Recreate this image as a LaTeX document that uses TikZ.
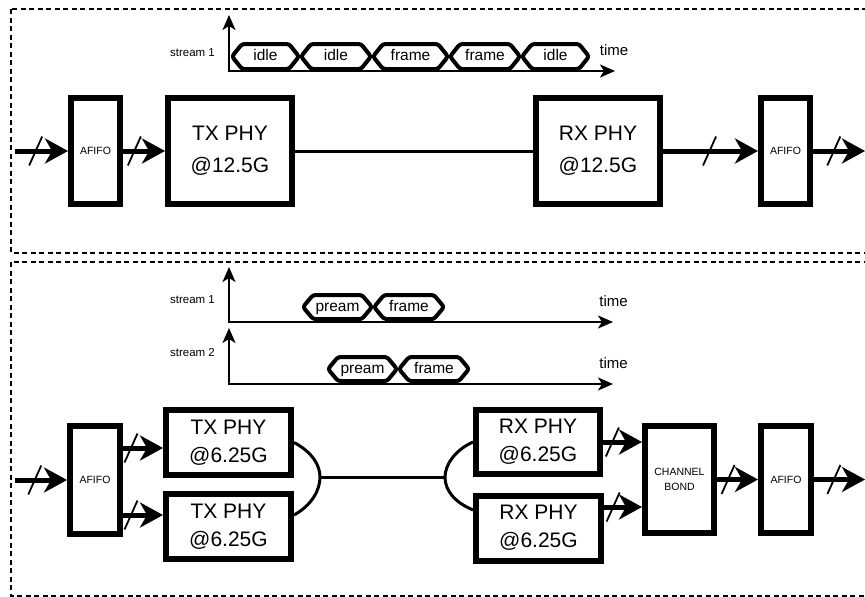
\documentclass[tikz,border=0pt]{standalone}
\usepackage{fontspec}
\setmainfont{Liberation Sans}
\usetikzlibrary{arrows.meta,calc,decorations.markings}
\newcommand\hexnode[6]{%
  \draw[hexb] (#2,{(#4+#5)/2}) -- (#2+10,#4) -- (#3-10,#4) -- (#3,{(#4+#5)/2}) -- (#3-10,#5) -- (#2+10,#5) -- cycle;
  \node[hext] (#1) at ({(#2+#3)/2},{(#4+#5)/2}) {#6};}
\begin{document}
\begin{tikzpicture}[x=1pt,y=-1pt,
  region/.style={draw,line width=2pt,dash pattern=on 5pt off 3.5pt},
  blk/.style={draw,line width=6pt,inner sep=0pt,align=center,font=\fontsize{21}{32}\selectfont},
  blks/.style={blk,font=\fontsize{21}{28}\selectfont},
  fifo/.style={draw,line width=6pt,inner sep=0pt,align=center,font=\fontsize{10.5}{15}\selectfont},
  bus/.style={line width=5pt,-{Stealth[length=23pt,width=25pt,inset=7pt]}},
  slashat/.style={postaction={decorate,decoration={markings,
     mark=at position #1 with {\draw[-,line width=1.8pt] (-6.5,14.5) -- (6.5,-14.5);}}}},
  link/.style={line width=3pt},
  axis/.style={line width=2pt,{Stealth[length=15pt,width=13pt,inset=4pt]}-{Stealth[length=15pt,width=13pt,inset=4pt]}},
  hexb/.style={draw,line width=4pt,rounded corners=2.5pt,line join=round},
  hext/.style={inner sep=0pt,text height=11pt,text depth=3pt,font=\fontsize{15.5}{18}\selectfont},
  lbl/.style={inner sep=0pt,font=\fontsize{11.5}{14}\selectfont},
  tlbl/.style={inner sep=0pt,font=\fontsize{15}{18}\selectfont}]
\useasboundingbox (0,0) rectangle (865,597);
\clip (0,0) rectangle (865,597);
\fill[white] (0,0) rectangle (865,597);

% regions
\draw[region] (11,9) rectangle (875,253);
\draw[region] (11,262) rectangle (875,596);

% ---------------- top: 12.5G -----------------
\coordinate (o1) at (229,71);
\coordinate (y1) at (229,15);
\coordinate (x1) at (615,71);
\draw[axis] (y1) -- (o1) -- (x1);
\node[lbl] (s1a) at (192.5,53) {stream 1};
\node[tlbl] (t1a) at (614,50) {time};
\hexnode{h1}{232}{299}{44}{69}{idle}
\hexnode{h2}{301}{371}{44}{69}{idle}
\hexnode{h3}{373}{448}{44}{69}{frame}
\hexnode{h4}{450}{520}{44}{69}{frame}
\hexnode{h5}{522}{589}{44}{69}{idle}

\coordinate (inA) at (15,151);
\node[fifo,minimum width=49pt,minimum height=106pt] (afA) at (95.5,151) {AFIFO};
\node[blk,minimum width=124pt,minimum height=106pt] (txA) at (230,151) {TX PHY\\@12.5G};
\node[blk,minimum width=124pt,minimum height=106pt] (rxA) at (598,151) {RX PHY\\@12.5G};
\node[fifo,minimum width=49pt,minimum height=106pt] (afB) at (785.5,151) {AFIFO};
\coordinate (outA) at (865,151);

\draw[bus,slashat=0.39] (inA) -- (afA.west);
\draw[bus,slashat=0.27] (afA.east) -- (txA.west);
\draw[link] (txA.east) -- (rxA.west);
\draw[bus,slashat=0.49] (rxA.east) -- (afB.west);
\draw[bus,slashat=0.40] (afB.east) -- (outA);

% ---------------- bottom: 2 x 6.25G -----------------
\coordinate (o2) at (229,322);
\coordinate (y2) at (229,267);
\coordinate (x2) at (613,322);
\draw[axis] (y2) -- (o2) -- (x2);
\coordinate (o3) at (229,384);
\coordinate (y3) at (229,328);
\coordinate (x3) at (613,384);
\draw[axis] (y3) -- (o3) -- (x3);
\node[lbl] (s1b) at (192.5,300) {stream 1};
\node[lbl] (s2b) at (192.5,353) {stream 2};
\node[tlbl] (t1b) at (613.5,301) {time};
\node[tlbl] (t2b) at (613.5,363) {time};
\hexnode{p1}{303}{372}{295}{319}{pream}
\hexnode{f1}{374}{444}{295}{319}{frame}
\hexnode{p2}{328}{397}{357}{381}{pream}
\hexnode{f2}{399}{469}{357}{381}{frame}

\coordinate (inB) at (15,480);
\node[fifo,minimum width=50pt,minimum height=108pt] (afC) at (95,480) {AFIFO};
\node[blks,minimum width=125pt,minimum height=65pt] (tx1) at (228.5,442.5) {TX PHY\\@6.25G};
\node[blks,minimum width=125pt,minimum height=65pt] (tx2) at (228.5,526.5) {TX PHY\\@6.25G};
\node[blks,minimum width=124pt,minimum height=64pt] (rx1) at (538,442) {RX PHY\\@6.25G};
\node[blks,minimum width=125pt,minimum height=65pt] (rx2) at (538.5,528) {RX PHY\\@6.25G};
\node[fifo,minimum width=69pt,minimum height=107pt] (cb) at (679.5,479.5) {CHANNEL\\BOND};
\node[fifo,minimum width=50pt,minimum height=107pt] (afD) at (786,479.5) {AFIFO};
\coordinate (outB) at (865,479.5);
\coordinate (txj) at (320,477);
\coordinate (rxj) at (445,477);

\draw[bus,slashat=0.38] (inB) -- (afC.west);
\draw[bus,slashat=0.2] (afC.east |- 0,448) -- (tx1.west |- 0,448);
\draw[bus,slashat=0.2] (afC.east |- 0,515) -- (tx2.west |- 0,515);
\draw[link] (tx1.east) .. controls (312,452) and (320,465) .. (txj)
   .. controls (320,490) and (312,505) .. (tx2.east |- 0,515);
\draw[link] (txj) -- (rxj);
\draw[link] (rx1.west) .. controls (455,450) and (445,465) .. (rxj)
   .. controls (445,490) and (454,502) .. (rx2.west |- 0,510);
\draw[bus,slashat=0.24] (rx1.east) -- (cb.west |- rx1.east);
\draw[bus,slashat=0.24] (rx2.east |- 0,507) -- (cb.west |- 0,507);
\draw[bus,slashat=0.27] (cb.east) -- (afD.west);
\draw[bus,slashat=0.39] (afD.east) -- (outB);
\end{tikzpicture}
\end{document}
